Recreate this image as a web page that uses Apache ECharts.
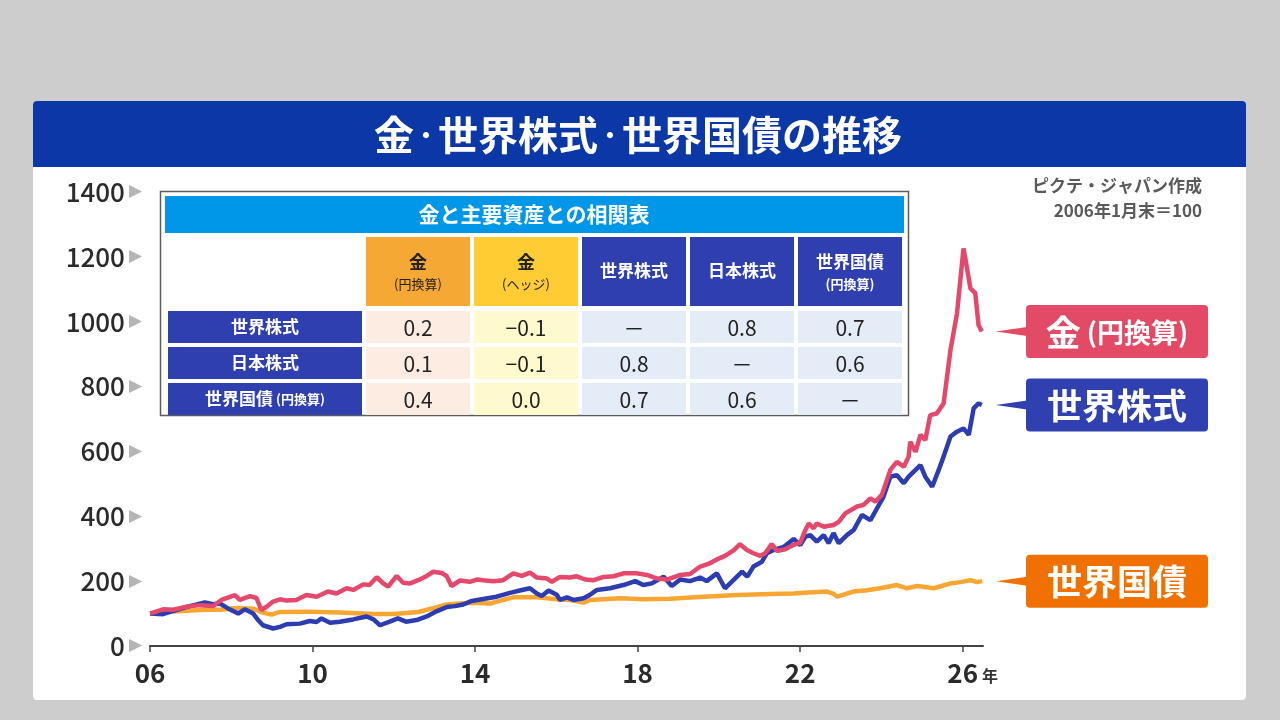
<!DOCTYPE html>
<html lang="ja">
<head>
<meta charset="utf-8">
<title>金・世界株式・世界国債の推移</title>
<script src="https://cdn.jsdelivr.net/npm/echarts@6/dist/echarts.min.js"></script>
<style>
    html, body { margin: 0; padding: 0; background: #cdcdcd; }
    #main { width: 1280px; height: 720px; }
</style>
</head>
<body>
<div id="main"></div>
<script>
var FONT = 'Noto Sans CJK JP';

// 2006年1月末＝100、[年, 指数]
var goldYen = [
    [2006.0, 100], [2006.32, 113], [2006.57, 112], [2006.9, 121], [2007.22, 126], [2007.55, 123],
    [2007.76, 142], [2008.09, 157], [2008.21, 142], [2008.46, 154], [2008.62, 148], [2008.74, 111],
    [2008.87, 121], [2009.03, 137], [2009.2, 144], [2009.36, 140], [2009.6, 142], [2009.85, 157],
    [2010.1, 152], [2010.38, 168], [2010.59, 162], [2010.84, 178], [2011.0, 173], [2011.25, 190],
    [2011.4, 188], [2011.58, 212], [2011.74, 193], [2011.86, 183], [2012.07, 216], [2012.23, 195],
    [2012.4, 193], [2012.6, 203], [2012.81, 216], [2012.97, 229], [2013.18, 225], [2013.3, 216],
    [2013.42, 185], [2013.63, 202], [2013.87, 198], [2014.04, 205], [2014.2, 203], [2014.45, 200],
    [2014.69, 203], [2014.94, 224], [2015.15, 216], [2015.35, 226], [2015.52, 211], [2015.77, 208],
    [2015.89, 198], [2016.09, 213], [2016.34, 211], [2016.5, 215], [2016.71, 205], [2016.92, 203],
    [2017.16, 213], [2017.41, 215], [2017.65, 224], [2017.98, 224], [2018.23, 219], [2018.48, 208],
    [2018.72, 205], [2019.05, 219], [2019.29, 222], [2019.54, 245], [2019.74, 253], [2019.95, 267],
    [2020.15, 278], [2020.37, 296], [2020.52, 314], [2020.69, 296], [2020.85, 286], [2021.02, 278],
    [2021.14, 286], [2021.3, 314], [2021.43, 293], [2021.63, 298], [2021.84, 312], [2022.0, 318],
    [2022.13, 358], [2022.21, 378], [2022.33, 363], [2022.41, 378], [2022.58, 368], [2022.82, 373],
    [2022.95, 383], [2023.11, 409], [2023.4, 430], [2023.56, 435], [2023.73, 455], [2023.85, 445],
    [2024.01, 466], [2024.22, 543], [2024.38, 568], [2024.55, 553], [2024.67, 584], [2024.71, 630],
    [2024.84, 599], [2024.96, 651], [2025.08, 635], [2025.2, 712], [2025.36, 717], [2025.53, 748],
    [2025.7, 913], [2025.86, 1026], [2026.02, 1226], [2026.1, 1170], [2026.19, 1103], [2026.31, 1088],
    [2026.39, 990], [2026.47, 970]
];
var worldStock = [
    [2006.0, 100], [2006.32, 98], [2006.57, 108], [2006.98, 123], [2007.35, 134], [2007.55, 129],
    [2007.72, 131], [2007.92, 116], [2008.17, 100], [2008.33, 113], [2008.54, 100], [2008.66, 80],
    [2008.78, 64], [2009.03, 54], [2009.2, 59], [2009.36, 67], [2009.69, 69], [2009.93, 77],
    [2010.1, 74], [2010.22, 85], [2010.43, 72], [2010.67, 75], [2011.0, 82], [2011.33, 91],
    [2011.5, 82], [2011.66, 64], [2011.9, 75], [2012.1, 85], [2012.3, 75], [2012.56, 80],
    [2012.81, 91], [2013.05, 107], [2013.3, 120], [2013.5, 123], [2013.71, 128], [2013.92, 139],
    [2014.2, 145], [2014.53, 152], [2014.86, 164], [2015.1, 171], [2015.35, 178], [2015.52, 162],
    [2015.64, 154], [2015.81, 171], [2016.01, 158], [2016.09, 142], [2016.26, 150], [2016.42, 142],
    [2016.67, 147], [2016.83, 158], [2017.0, 173], [2017.32, 178], [2017.65, 188], [2017.94, 200],
    [2018.14, 188], [2018.35, 193], [2018.64, 214], [2018.84, 185], [2019.05, 205], [2019.29, 200],
    [2019.54, 211], [2019.7, 200], [2019.95, 224], [2020.15, 178], [2020.37, 205], [2020.57, 229],
    [2020.7, 214], [2020.85, 245], [2021.06, 260], [2021.18, 286], [2021.35, 296], [2021.6, 306],
    [2021.84, 330], [2022.0, 311], [2022.13, 337], [2022.25, 342], [2022.41, 322], [2022.58, 342],
    [2022.7, 317], [2022.82, 348], [2022.95, 317], [2023.15, 342], [2023.32, 358], [2023.52, 404],
    [2023.73, 388], [2023.89, 424], [2024.05, 460], [2024.22, 522], [2024.38, 527], [2024.55, 502],
    [2024.67, 522], [2024.84, 543], [2024.96, 558], [2025.08, 522], [2025.25, 491], [2025.41, 543],
    [2025.53, 584], [2025.7, 646], [2025.86, 661], [2026.02, 671], [2026.15, 651], [2026.27, 733],
    [2026.39, 748], [2026.47, 743]
];
var worldBond = [
    [2006.0, 100], [2006.57, 106], [2007.35, 112], [2007.72, 112], [2008.13, 117], [2008.54, 115],
    [2008.78, 103], [2008.99, 97], [2009.2, 105], [2009.85, 106], [2010.67, 103], [2011.5, 99],
    [2012.0, 99], [2012.6, 105], [2012.97, 117], [2013.3, 128], [2013.63, 131], [2013.95, 133],
    [2014.37, 131], [2014.69, 142], [2014.94, 150], [2015.52, 150], [2016.01, 144], [2016.34, 142],
    [2016.67, 134], [2016.83, 142], [2017.57, 147], [2018.14, 144], [2018.8, 146], [2019.62, 152],
    [2020.45, 157], [2021.27, 160], [2021.84, 162], [2022.09, 164], [2022.66, 168], [2022.82, 161],
    [2022.91, 152], [2023.31, 168], [2023.64, 172], [2023.97, 178], [2024.38, 188], [2024.63, 178],
    [2024.88, 185], [2025.29, 178], [2025.7, 193], [2025.94, 197], [2026.19, 203], [2026.35, 197],
    [2026.48, 200]
];
var yearTicks = [2006, 2010, 2014, 2018, 2022, 2026];

// 相関表
var tableTitle = '金と主要資産との相関表';
var colHeads = [['金', '(円換算)'], ['金', '(ヘッジ)'], ['世界株式'], ['日本株式'], ['世界国債', '(円換算)']];
var rowHeads = [['世界株式'], ['日本株式'], ['世界国債', '(円換算)']];
var corr = [
    ['0.2', '−0.1', '－', '0.8', '0.7'],
    ['0.1', '−0.1', '0.8', '－', '0.6'],
    ['0.4', '0.0', '0.7', '0.6', '－']
];

var C_GOLD = '#e5486a', C_STOCK = '#2d3cb2', C_BOND = '#f7a631';
var C_NAVY = '#2f3fb0';

var chart = echarts.init(document.getElementById('main'));

function makeTable() {
    var els = [];
    els.push({ type: 'rect', shape: { x: 160.5, y: 191.5, width: 748, height: 224 },
        style: { fill: '#fff', stroke: '#5c5c5c', lineWidth: 1.5 }, z: 10 });
    els.push({ type: 'rect', shape: { x: 165, y: 196, width: 739, height: 37 }, style: { fill: '#0097e8' }, z: 11 });
    els.push({ type: 'text', x: 534, y: 214.5, z: 12, style: { text: tableTitle, fill: '#fff',
        font: 'bold 21px "' + FONT + '"', align: 'center', verticalAlign: 'middle' } });

    var colX = [366, 474, 582, 690, 798], colW = 104;
    var headFill = ['#f6a834', '#ffcc33', C_NAVY, C_NAVY, C_NAVY];
    var headText = ['#222', '#222', '#fff', '#fff', '#fff'];
    var cellFill = ['#fcece2', '#fffacd', '#e4ecf7', '#e4ecf7', '#e4ecf7'];
    var rowY = [311, 347, 383], rowH = 32;

    colHeads.forEach(function (h, i) {
        els.push({ type: 'rect', shape: { x: colX[i], y: 237, width: colW, height: 69 }, style: { fill: headFill[i] }, z: 11 });
        var big = i < 2 ? 18 : 17;
        if (h.length > 1) {
            els.push({ type: 'text', x: colX[i] + colW / 2, y: 262, z: 12, style: { text: h[0], fill: headText[i],
                font: 'bold ' + big + 'px "' + FONT + '"', align: 'center', verticalAlign: 'middle' } });
            els.push({ type: 'text', x: colX[i] + colW / 2, y: 284, z: 12, style: { text: h[1], fill: headText[i],
                font: (i < 2 ? 'normal ' : 'bold ') + '13px "' + FONT + '"', align: 'center', verticalAlign: 'middle' } });
        } else {
            els.push({ type: 'text', x: colX[i] + colW / 2, y: 271, z: 12, style: { text: h[0], fill: headText[i],
                font: 'bold ' + big + 'px "' + FONT + '"', align: 'center', verticalAlign: 'middle' } });
        }
    });

    rowHeads.forEach(function (r, j) {
        els.push({ type: 'rect', shape: { x: 168, y: rowY[j], width: 194, height: rowH }, style: { fill: C_NAVY }, z: 11 });
        var txt = r.length > 1 ? '{a|' + r[0] + '}{b| ' + r[1] + '}' : '{a|' + r[0] + '}';
        els.push({ type: 'text', x: 265, y: rowY[j] + rowH / 2, z: 12, style: { text: txt, align: 'center', verticalAlign: 'middle',
            rich: { a: { fill: '#fff', font: 'bold 17px "' + FONT + '"' }, b: { fill: '#fff', font: 'bold 13px "' + FONT + '"' } } } });
        corr[j].forEach(function (v, i) {
            els.push({ type: 'rect', shape: { x: colX[i], y: rowY[j], width: colW, height: rowH }, style: { fill: cellFill[i] }, z: 11 });
            els.push({ type: 'text', x: colX[i] + colW / 2, y: rowY[j] + rowH / 2 + 1, z: 12, style: { text: v, fill: '#222',
                font: 'normal 21px "' + FONT + '"', align: 'center', verticalAlign: 'middle' } });
        });
    });
    return els;
}

var titleRich = {
    a: { fill: '#fff', font: 'bold 40px "' + FONT + '"' },
    d: { fill: '#fff', font: 'bold 24px "' + FONT + '"' }
};

var baseGraphic = [
    { type: 'rect', shape: { x: 33, y: 101, width: 1213, height: 599, r: 4 }, style: { fill: '#fff' }, z: -100 },
    { type: 'rect', shape: { x: 33, y: 101, width: 1213, height: 66, r: [4, 4, 0, 0] }, style: { fill: '#0b38a6' }, z: -99 },
    { type: 'text', x: 638, y: 135, z: 5, style: { text: '{a|金}{d|・}{a|世界株式}{d|・}{a|世界国債の推移}',
        rich: titleRich, align: 'center', verticalAlign: 'middle' } },
    { type: 'text', x: 1202, y: 186, z: 5, style: { text: 'ピクテ・ジャパン作成', fill: '#5a5a5a',
        font: 'bold 17px "' + FONT + '"', align: 'right', verticalAlign: 'middle' } },
    { type: 'text', x: 1202, y: 211, z: 5, style: { text: '2006年1月末＝100', fill: '#5a5a5a',
        font: 'bold 17px "' + FONT + '"', align: 'right', verticalAlign: 'middle' } },
    { type: 'text', x: 990, y: 676, z: 5, style: { text: '年', fill: '#333',
        font: 'bold 16px "' + FONT + '"', align: 'center', verticalAlign: 'middle' } }
].concat(makeTable());

var option = {
    backgroundColor: '#cdcdcd',
    animation: false,
    grid: { left: 150, right: 297, top: 192, bottom: 74 },
    xAxis: {
        type: 'value',
        min: 2006,
        max: 2026.5,
        axisLine: { lineStyle: { color: '#444', width: 2 } },
        axisTick: { customValues: yearTicks, length: 6, lineStyle: { color: '#444', width: 1.5 } },
        axisLabel: {
            customValues: yearTicks,
            margin: 14,
            formatter: function (v) { return String(v).slice(2); },
            color: '#2b2b2b',
            fontFamily: FONT,
            fontWeight: 'bold',
            fontSize: 26
        },
        splitLine: { show: false }
    },
    yAxis: {
        type: 'value',
        min: 0,
        max: 1400,
        interval: 200,
        axisLine: { show: false },
        axisTick: { show: false },
        splitLine: { show: false },
        axisLabel: {
            margin: 8,
            formatter: function (v) { return '{v|' + v + '}{t|▶}'; },
            rich: {
                v: { fontSize: 26, color: '#2b2b2b', fontFamily: FONT, fontWeight: 500 },
                t: { fontSize: 17, color: '#b5b5b5', padding: [0, 0, 0, 4], fontFamily: 'DejaVu Sans' }
            }
        }
    },
    series: [
        { name: '世界国債', type: 'line', data: worldBond, showSymbol: false, lineStyle: { color: C_BOND, width: 4.5 }, z: 3 },
        { name: '世界株式', type: 'line', data: worldStock, showSymbol: false, lineStyle: { color: C_STOCK, width: 4.5 }, z: 4 },
        { name: '金 (円換算)', type: 'line', data: goldYen, showSymbol: false, lineStyle: { color: C_GOLD, width: 4.5 }, z: 5 }
    ],
    graphic: baseGraphic
};
chart.setOption(option);

// 右側の系列ラベル（各系列の最終値の高さに合わせる）
function seriesTag(last, fill, text) {
    var p = chart.convertToPixel({ gridIndex: 0 }, last);
    var cy = p[1];
    return [
        { type: 'polygon', shape: { points: [[p[0] + 14, cy], [1027, cy - 4.5], [1027, cy + 4.5]] }, style: { fill: fill }, z: 20 },
        { type: 'rect', shape: { x: 1026, y: cy - 26.5, width: 182, height: 53, r: 4 }, style: { fill: fill }, z: 20 },
        { type: 'text', x: 1117, y: cy + 1, z: 21, style: { text: text, align: 'center', verticalAlign: 'middle',
            rich: { a: { fill: '#fff', font: 'bold 35px "' + FONT + '"' }, b: { fill: '#fff', font: 'bold 27px "' + FONT + '"' } } } }
    ];
}
var tags = []
    .concat(seriesTag(goldYen[goldYen.length - 1], '#e34a65', '{a|金}{b| (円換算)}'))
    .concat(seriesTag(worldStock[worldStock.length - 1], '#3040b0', '{a|世界株式}'))
    .concat(seriesTag(worldBond[worldBond.length - 1], '#f07100', '{a|世界国債}'));
chart.setOption({ graphic: baseGraphic.concat(tags) });

window.addEventListener('resize', function () {
    chart.resize();
});
</script>
</body>
</html>
